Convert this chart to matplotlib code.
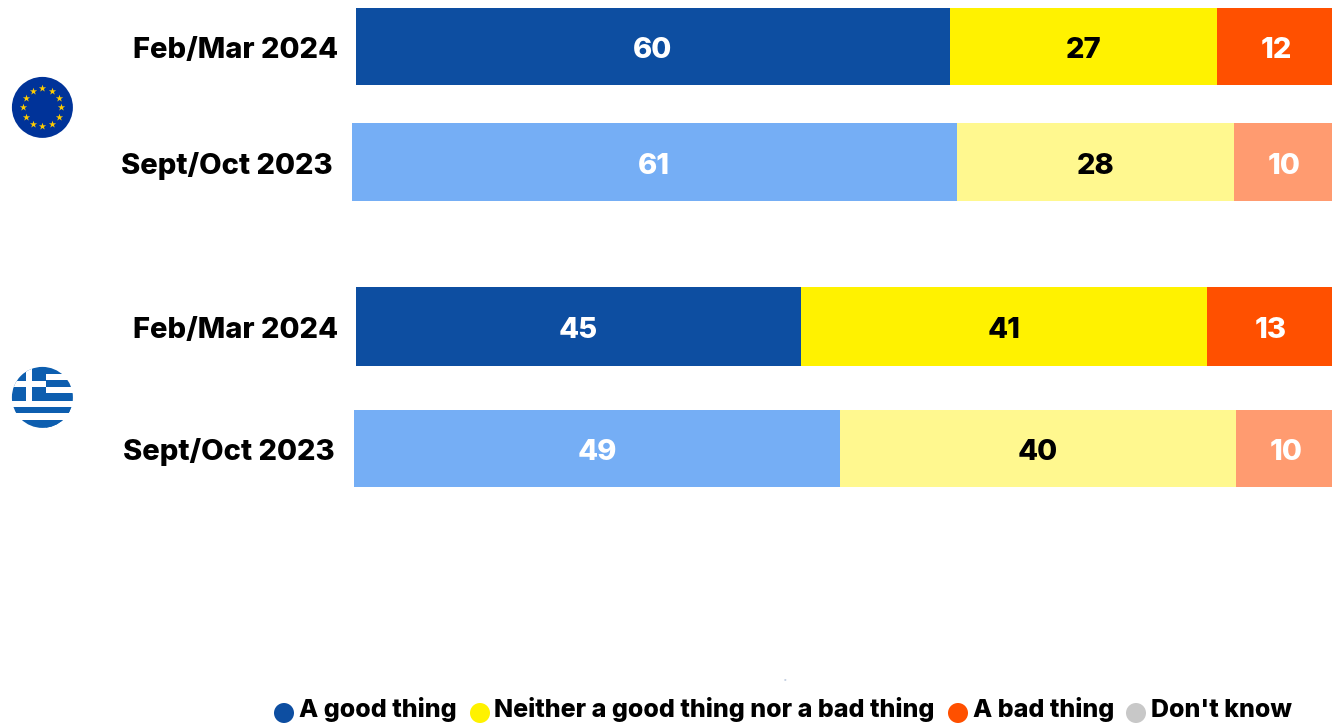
import numpy as np
import matplotlib
matplotlib.use('Agg')
import matplotlib.pyplot as plt
from matplotlib.patches import Circle, Rectangle

plt.rcParams['font.family'] = ['Inter', 'DejaVu Sans']

rows = ['Feb/Mar 2024', 'Sept/Oct 2023', 'Feb/Mar 2024', 'Sept/Oct 2023']
good = [60, 61, 45, 49]
neither = [27, 28, 41, 40]
bad = [12, 10, 13, 10]
dont_know = [1, 1, 1, 1]
legend_labels = ['A good thing', 'Neither a good thing nor a bad thing', 'A bad thing', "Don't know"]

# colours, recent wave / earlier wave
good_cols = ['#0d4ea1', '#75aef5', '#0d4ea1', '#75aef5']
neither_cols = ['#fff200', '#fff88f', '#fff200', '#fff88f']
bad_cols = ['#ff5000', '#ff9b70', '#ff5000', '#ff9b70']
grey = '#c8c8c8'

# layout in pixels
W, H = 1332, 723
PX = 9.9  # pixels per percentage point
x0 = 356
left_px = [356, 352, 356, 354]
stretch = [1, 1.0015, 0.999, 1.0015]  # rows are not quite the same width in the original
top_px = [8, 123, 287, 410]
bot_px = [85, 201, 366, 487]
label_right = [338, 333, 338, 335]
FS = 21
WEIGHT = 800

fig = plt.figure(figsize=(W / 100, H / 100), dpi=100)

# overlay in pixel coordinates for flags, labels and legend
ov = fig.add_axes([0, 0, 1, 1])
ov.set_xlim(0, W)
ov.set_ylim(H, 0)
ov.axis('off')

# bars, x axis in percent
ax = fig.add_axes([x0 / W, 0, (W - x0) / W, 1])
ax.set_xlim(0, (W - x0) / PX)
ax.set_ylim(H, 0)
ax.axis('off')
ax.patch.set_alpha(0)

for i in range(len(rows)):
    start = (left_px[i] - x0) / PX
    y = (top_px[i] + bot_px[i]) / 2
    h = bot_px[i] - top_px[i]
    parts = [good[i], neither[i], bad[i], dont_know[i]]
    cols = [good_cols[i], neither_cols[i], bad_cols[i], grey]
    tcols = ['white', 'black', 'white', None]
    for v, c, tc in zip(parts, cols, tcols):
        w = v * stretch[i]
        ax.barh(y, w, left=start, height=h, color=c, linewidth=0, clip_on=True if tc is None else False)
        if tc is not None:
            ax.text(start + w / 2, y + 1, str(v), color=tc, ha='center', va='center_baseline',
                    fontsize=FS, fontweight=WEIGHT)
        start += w
    ov.text(label_right[i], y + 1, rows[i], ha='right', va='center_baseline', fontsize=FS,
            fontweight=WEIGHT, color='black')

# EU flag
eu_c = (42.4, 107.4)
ov.add_patch(Circle(eu_c, 30.5, color='#003399', lw=0))
ang = np.deg2rad(np.arange(0, 360, 30))
ov.scatter(eu_c[0] + 19 * np.cos(ang), eu_c[1] + 19 * np.sin(ang), marker='*', s=30,
           color='#ffcc00', linewidths=0, zorder=3)

# Greek flag
gr_c = (42.4, 397.4)
clip = Circle(gr_c, 30.5, transform=ov.transData)
flag_blue = '#0d5eaf'
stripes = [(367, 374), (380, 387), (393, 401), (407, 413), (420, 428)]
shapes = [Rectangle((11, 366), 63, 63, color='white', lw=0)]
for a, b in stripes:
    shapes.append(Rectangle((46, a), 28, b - a, color=flag_blue, lw=0))
for a, b in stripes[3:]:
    shapes.append(Rectangle((11, a), 63, b - a, color=flag_blue, lw=0))
shapes.append(Rectangle((11, 366), 35, 35, color=flag_blue, lw=0))
shapes.append(Rectangle((26, 366), 6, 35, color='white', lw=0))
shapes.append(Rectangle((11, 381), 35, 6, color='white', lw=0))
for s in shapes:
    ov.add_patch(s)
    s.set_clip_path(clip)

# legend
leg_cols = ['#0d4ea1', '#fff200', '#ff5000', grey]
leg_dot = [284, 480, 958, 1136]
leg_txt = [299, 494, 973, 1151]
for lab, c, dx, tx in zip(legend_labels, leg_cols, leg_dot, leg_txt):
    ov.add_patch(Circle((dx, 713), 10, color=c, lw=0))
    ov.text(tx, 717, lab, ha='left', va='baseline', fontsize=18, fontweight=WEIGHT, color='black')
ov.text(785, 680, '>', fontsize=3, color='#5577aa', ha='center', va='center')

fig.savefig('out.png', dpi=100, facecolor='white')
